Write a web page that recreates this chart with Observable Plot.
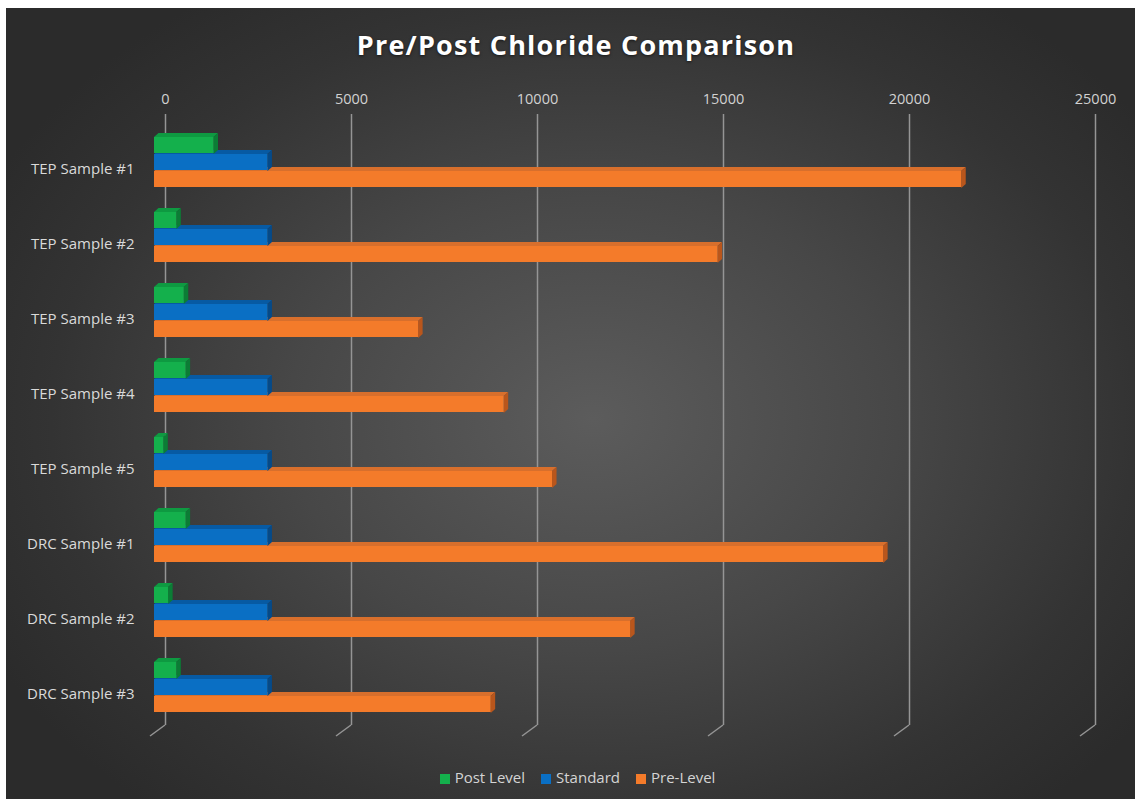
<!DOCTYPE html>
<html>
<head>
<meta charset="utf-8">
<script src="https://cdn.jsdelivr.net/npm/d3@7"></script>
<script src="https://cdn.jsdelivr.net/npm/@observablehq/plot@0.6"></script>
<style>
  html, body { margin: 0; padding: 0; background: #ffffff; }
  #frame {
    position: absolute; left: 6px; top: 8px; width: 1129px; height: 791px; overflow: hidden;
    background: radial-gradient(ellipse 60% 65% at 52% 52%, #5c5c5c 0%, #474747 45%, #333333 80%, #2b2b2b 100%);
    font-family: "Open Sans", sans-serif;
  }
  #title {
    height: 72px; box-sizing: border-box; padding-top: 22px; padding-left: 11px;
    text-align: center; color: #ffffff; font-weight: 700; font-size: 27px; line-height: 30px;
    letter-spacing: 1.2px; text-shadow: 0 1px 3px rgba(0,0,0,0.6);
  }
  #legend {
    margin-top: 7px; height: 20px; line-height: 20px; text-align: center; padding-left: 14px;
    color: #d4d4d4; font-size: 15px;
  }
  .item { display: inline-block; margin: 0 8px; }
  .sw { display: inline-block; width: 10px; height: 10px; margin-right: 5px; vertical-align: -1px; }
  svg { display: block; }
</style>
</head>
<body>
<div id="frame">
  <div id="title">Pre/Post Chloride Comparison</div>
  <div id="chart"></div>
  <div id="legend"></div>
</div>
<script>
// ---- data ----
const categories = ["TEP Sample #1", "TEP Sample #2", "TEP Sample #3", "TEP Sample #4", "TEP Sample #5", "DRC Sample #1", "DRC Sample #2", "DRC Sample #3"];
const seriesNames = ["Post Level", "Standard", "Pre-Level"];
const postLevel = [1600, 600, 800, 850, 250, 850, 380, 600];
const standard = [3050, 3050, 3050, 3050, 3050, 3050, 3050, 3050];
const preLevel = [21700, 15150, 7100, 9400, 10700, 19600, 12800, 9050];
const xTicks = [0, 5000, 10000, 15000, 20000, 25000];

// ---- styles ----
const colors = {
  "Post Level": {front: "#14b04c", top: "#0e9a41", side: "#0b7d35"},
  "Standard":   {front: "#0a6fc4", top: "#075aa3", side: "#064a88"},
  "Pre-Level":  {front: "#f47b2a", top: "#d86f2c", side: "#b9561c"}
};
const BAR_H = 17, DX = 4.5, DY = -4, GRID_DX = 11;

const seriesValues = {"Post Level": postLevel, "Standard": standard, "Pre-Level": preLevel};
const seriesOffset = {"Post Level": 0, "Standard": 17, "Pre-Level": 34};

function faces(name) {
  const vals = seriesValues[name];
  const c = colors[name];
  const off = seriesOffset[name];
  return (index, scales) => {
    const g = d3.create("svg:g");
    categories.forEach((cat, i) => {
      const x0 = scales.x(0), x1 = scales.x(vals[i]);
      const yt = scales.y(cat) + off, yb = yt + BAR_H;
      g.append("polygon")
        .attr("points", [[x0, yt], [x0 + DX, yt + DY], [x1 + DX, yt + DY], [x1, yt]].map(p => p.join(",")).join(" "))
        .attr("fill", c.top);
      g.append("polygon")
        .attr("points", [[x1, yt], [x1 + DX, yt + DY], [x1 + DX, yb + DY], [x1, yb]].map(p => p.join(",")).join(" "))
        .attr("fill", c.side);
    });
    return g.node();
  };
}

function floorLines(index, scales, values, dims) {
  const g = d3.create("svg:g");
  const yBack = dims.height - dims.marginBottom - 16;
  xTicks.forEach(t => {
    const xb = scales.x(t) + GRID_DX;
    g.append("line")
      .attr("x1", xb).attr("y1", yBack)
      .attr("x2", xb - 15).attr("y2", yBack + 11)
      .attr("stroke", "#959595").attr("stroke-width", 1.5);
  });
  return g.node();
}

function frontBars(name) {
  const vals = seriesValues[name];
  const off = seriesOffset[name];
  return Plot.barX(categories, {
    x1: 0,
    x2: (d, i) => vals[i],
    y: d => d,
    fill: colors[name].front,
    insetTop: off,
    insetBottom: 51 - BAR_H - off
  });
}

const chart = Plot.plot({
  width: 1129,
  height: 680,
  marginLeft: 148,
  marginRight: 51,
  marginTop: 29,
  marginBottom: 19,
  x: {domain: [0, 25000], label: null},
  y: {domain: categories, padding: 0.328, label: null},
  style: {background: "transparent", fontFamily: "Open Sans, sans-serif", overflow: "visible"},
  marks: [
    Plot.ruleX(xTicks, {dx: GRID_DX, stroke: "#959595", strokeWidth: 1.5, insetTop: 5, insetBottom: 16}),
    floorLines,
    Plot.axisX(xTicks, {anchor: "top", tickSize: 0, tickPadding: 6, dx: GRID_DX, tickFormat: d => String(d), color: "#d2d2d2", fontSize: 14.5, label: null}),
    Plot.axisY({tickSize: 0, tickPadding: 20, dy: 7, color: "#dadada", fontSize: 15, label: null}),
    faces("Pre-Level"), frontBars("Pre-Level"),
    faces("Standard"), frontBars("Standard"),
    faces("Post Level"), frontBars("Post Level")
  ]
});
document.getElementById("chart").appendChild(chart);

const legend = document.getElementById("legend");
seriesNames.forEach(n => {
  const it = document.createElement("span");
  it.className = "item";
  it.innerHTML = `<span class="sw" style="background:${colors[n].front}"></span>${n}`;
  legend.appendChild(it);
});
</script>
</body>
</html>
